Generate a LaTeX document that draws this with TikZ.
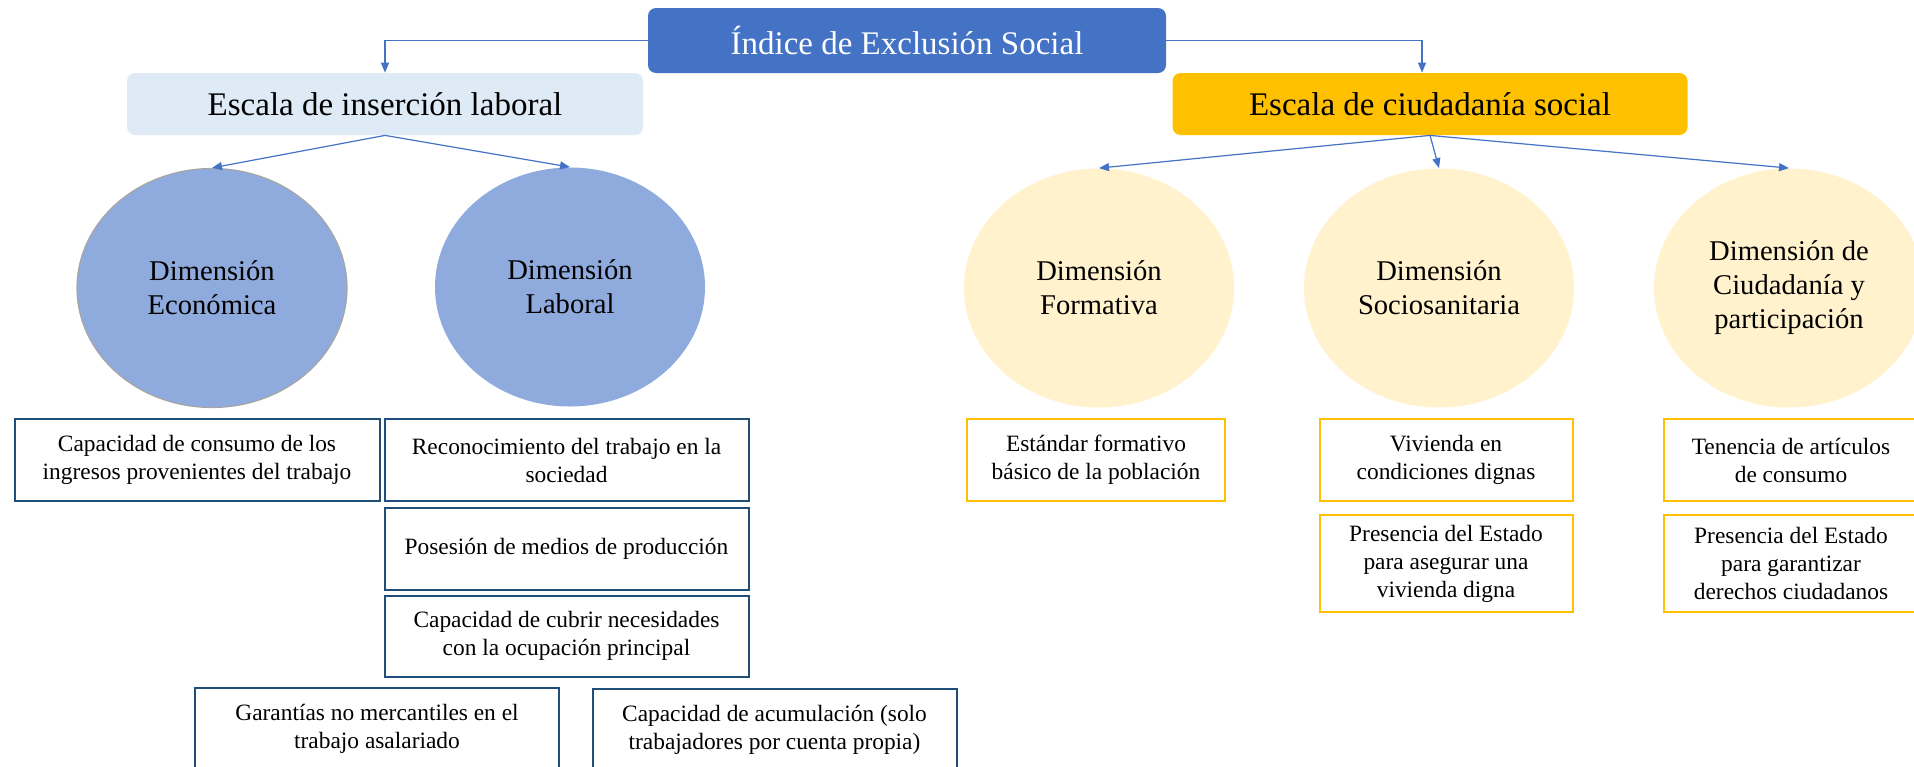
\documentclass[tikz,border=0pt]{standalone}
\usepackage{fontspec}
\setmainfont{Liberation Serif}
\usetikzlibrary{shapes.geometric,arrows.meta}
\definecolor{azul}{HTML}{4472C4}
\definecolor{azulclaro}{HTML}{DEEBF7}
\definecolor{azulmedio}{HTML}{8FAADC}
\definecolor{azuloscuro}{HTML}{1F4E79}
\definecolor{oro}{HTML}{FFC000}
\definecolor{crema}{HTML}{FFF2CC}
\begin{document}
\begin{tikzpicture}[x=0.5pt, y=-0.5pt,
  titulo/.style={rounded corners=4pt, minimum height=31pt, inner sep=0pt, font=\fontsize{16.5}{19}\selectfont},
  dim/.style={ellipse, inner sep=0pt, minimum width=135pt, minimum height=119.5pt, align=center, font=\fontsize{14.3}{17}\selectfont},
  caja/.style={draw, line width=1pt, inner sep=0pt, minimum height=41pt, align=center, font=\fontsize{11.7}{14}\selectfont},
  flecha/.style={draw=azul, line width=0.6pt, -{Triangle[length=5pt,width=4pt]}}]
\useasboundingbox (0,0) rectangle (1914,766);
\clip (0,0) rectangle (1914,766);
% raiz y escalas
\node[titulo, fill=azul, text=white, minimum width=259pt, minimum height=32.5pt] (raiz) at (907,40.5) {Índice de Exclusión Social};
\node[titulo, fill=azulclaro, minimum width=258pt] (esc0) at (385,104) {Escala de inserción laboral};
\node[titulo, fill=oro, minimum width=257.5pt] (esc1) at (1430,104) {Escala de ciudadanía social};
\coordinate (llega1) at ([xshift=-4pt]esc1.north);
\draw[flecha] (raiz.west) -| (esc0.north);
\draw[flecha] (raiz.east) -| (llega1);
% dimensiones
\node[dim, fill=azulmedio, draw=gray!70, line width=0.6pt] (dim0) at (212,288) {Dimensión\\Económica};
\node[dim, fill=azulmedio] (dim1) at (570,287) {Dimensión\\Laboral};
\node[dim, fill=crema] (dim2) at (1099,288) {Dimensión\\Formativa};
\node[dim, fill=crema] (dim3) at (1439,288) {Dimensión\\Sociosanitaria};
\node[dim, fill=crema] (dim4) at (1789,288) {Dimensión de\\Ciudadanía y\\participación};
\draw[flecha] (esc0.south) -- (dim0.north);
\draw[flecha] (esc0.south) -- (dim1.north);
\draw[flecha] (esc1.south) -- (dim2.north);
\draw[flecha] (esc1.south) -- (dim3.north);
\draw[flecha] (esc1.south) -- (dim4.north);
% indicadores
\node[caja, draw=azuloscuro, minimum width=182.5pt] (ind0) at (197,460) {Capacidad de consumo de los\\ingresos provenientes del trabajo};
\node[caja, draw=azuloscuro, minimum width=182pt] (ind1) at (566.5,460) {Reconocimiento del trabajo en la\\sociedad};
\node[caja, draw=azuloscuro, minimum width=182pt] (ind2) at (566.5,549) {Posesión de medios de producción};
\node[caja, draw=azuloscuro, minimum width=182pt, minimum height=40.5pt] (ind3) at (566.5,636) {Capacidad de cubrir necesidades\\con la ocupación principal};
\node[caja, draw=azuloscuro, minimum width=182pt] (ind4) at (377,729) {Garantías no mercantiles en el\\trabajo asalariado};
\node[caja, draw=azuloscuro, minimum width=182pt] (ind5) at (774.5,730) {Capacidad de acumulación (solo\\trabajadores por cuenta propia)};
\node[caja, draw=oro, minimum width=129pt] (ind6) at (1096,460) {Estándar formativo\\básico de la población};
\node[caja, draw=oro, minimum width=126.5pt] (ind7) at (1446,460) {Vivienda en\\condiciones dignas};
\node[caja, draw=oro, minimum width=126.5pt, minimum height=48.5pt] (ind8) at (1446,563.5) {Presencia del Estado\\para asegurar una\\vivienda digna};
\node[caja, draw=oro, minimum width=127pt] (ind9) at (1791,460) {Tenencia de artículos\\de consumo};
\node[caja, draw=oro, minimum width=127pt, minimum height=48.5pt] (ind10) at (1791,563.5) {Presencia del Estado\\para garantizar\\derechos ciudadanos};
\end{tikzpicture}
\end{document}
